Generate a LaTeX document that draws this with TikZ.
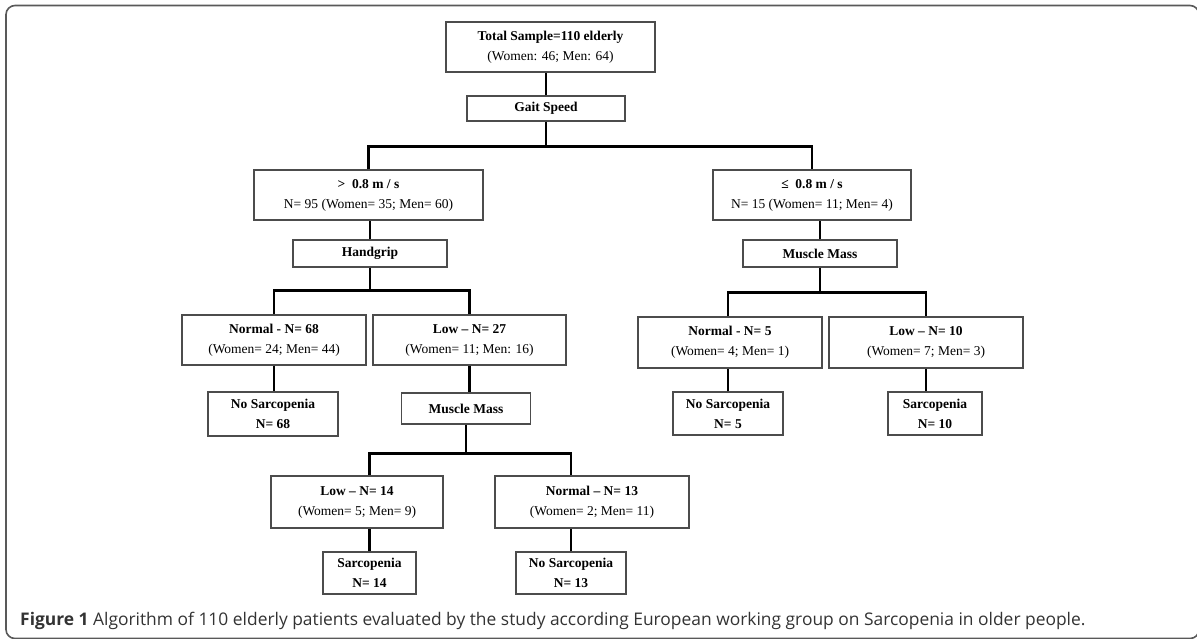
\documentclass[tikz,border=0pt]{standalone}
\usepackage{fontspec}
\setmainfont{Liberation Serif}
\newfontfamily\capfont{Open Sans}
\begin{document}
\begin{tikzpicture}[x=1pt,y=-1pt,
  box/.style={draw=black!70, line width=1.1pt, fill=white, inner sep=0pt, align=center,
    font=\fontsize{13.5}{20}\selectfont},
  conn/.style={line width=2.9pt, black},
  frame/.style={line width=1.6pt, black!65, rounded corners=9pt}]
\useasboundingbox (0,0) rectangle (1197,638);
\draw[frame] (6,5.5) rectangle (1199,638.5);
% nodes
\node[box, minimum width=209, minimum height=50] (top) at (550.5,47) {\textbf{Total Sample=110 elderly}\\(Women: 46; Men: 64)};
\node[box, minimum width=158, minimum height=25] (gait) at (546,108.5) {\textbf{Gait Speed}};
\node[box, minimum width=229, minimum height=50] (L1) at (368.5,195) {\textbf{>\ \ 0.8 m / s}\\N= 95 (Women= 35; Men= 60)};
\node[box, minimum width=198, minimum height=50] (R1) at (812,195) {\textbf{≤\ \ 0.8 m / s}\\N= 15 (Women= 11; Men= 4)};
\node[box, minimum width=154, minimum height=27] (hand) at (370,253.5) {\textbf{Handgrip}};
\node[box, minimum width=154, minimum height=27] (mmR) at (820,253.5) {\textbf{Muscle Mass}};
\node[box, minimum width=184, minimum height=50] (NL) at (274,340) {\textbf{Normal - N= 68}\\(Women= 24; Men= 44)};
\node[box, minimum width=193, minimum height=50] (LL) at (469.5,340) {\textbf{Low – N= 27}\\(Women= 11; Men: 16)};
\node[box, minimum width=130, minimum height=44] (NSL) at (273,414) {\textbf{No Sarcopenia}\\\textbf{N= 68}};
\node[box, minimum width=129, minimum height=31] (mmL) at (466,408.5) {\textbf{Muscle Mass}};
\node[box, minimum width=184, minimum height=51] (N5) at (730,342.5) {\textbf{Normal - N= 5}\\(Women= 4; Men= 1)};
\node[box, minimum width=194, minimum height=51] (L10) at (926,342.5) {\textbf{Low – N= 10}\\(Women= 7; Men= 3)};
\node[box, minimum width=110, minimum height=43] (NS5) at (728,413.5) {\textbf{No Sarcopenia}\\\textbf{N= 5}};
\node[box, minimum width=94, minimum height=43] (S10) at (935,413.5) {\textbf{Sarcopenia}\\\textbf{N= 10}};
\node[box, minimum width=172, minimum height=52] (L14) at (357,502) {\textbf{Low – N= 14}\\(Women= 5; Men= 9)};
\node[box, minimum width=194, minimum height=52] (N13) at (592,502) {\textbf{Normal – N= 13}\\(Women= 2; Men= 11)};
\node[box, minimum width=93, minimum height=42] (S14) at (369.5,573) {\textbf{Sarcopenia}\\\textbf{N= 14}};
\node[box, minimum width=110, minimum height=42] (NS13) at (571,573) {\textbf{No Sarcopenia}\\\textbf{N= 13}};
% connectors
\draw[conn] (gait.north) -- (gait.north |- top.south);
\draw[conn] (gait.south) -- ++(0,25) coordinate (j1);
\draw[conn] (L1.north) |- (j1) -| (R1.north);
\draw[conn] (hand.north) -- (hand.north |- L1.south);
\draw[conn] (hand.south) -- ++(0,23) coordinate (j2);
\draw[conn] (NL.north) |- (j2) -| (LL.north);
\draw[conn] (NL.south) -- (NL.south |- NSL.north);
\draw[conn] (LL.south) -- (LL.south |- mmL.north);
\draw[conn] (mmL.south) -- ++(0,29) coordinate (j3);
\draw[conn] (S14.north |- L14.north) |- (j3) -| (NS13.north |- N13.north);
\draw[conn] (S14.north) -- (S14.north |- L14.south);
\draw[conn] (NS13.north) -- (NS13.north |- N13.south);
\draw[conn] (mmR.north) -- (mmR.north |- R1.south);
\draw[conn] (mmR.south) -- ++(0,25) coordinate (j4);
\draw[conn] (NS5.north |- N5.north) |- (j4) -| (L10.north);
\draw[conn] (NS5.north) -- (NS5.north |- N5.south);
\draw[conn] (L10.south) -- (L10.south |- S10.north);
% caption
\node[anchor=base west, inner sep=0pt, font=\capfont\fontsize{17.4}{21}\selectfont, text=black!80] (cap) at (20,625)
  {\textbf{Figure 1} Algorithm of 110 elderly patients evaluated by the study according European working group on Sarcopenia in older people.};
\end{tikzpicture}
\end{document}
